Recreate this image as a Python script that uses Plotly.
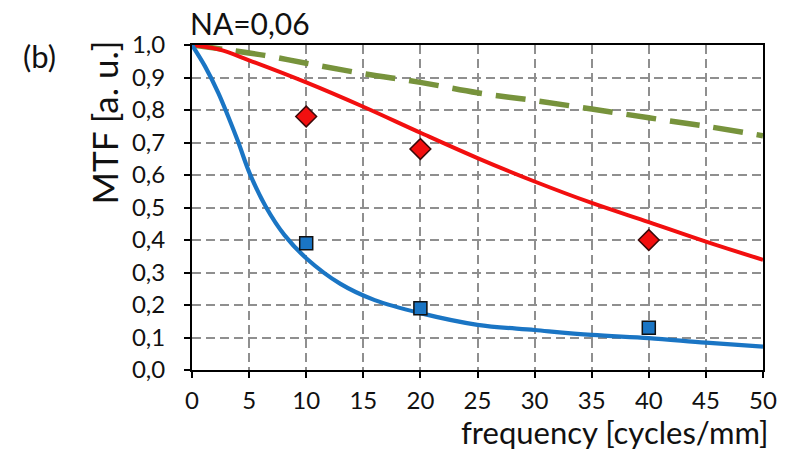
import plotly.graph_objects as go

# Modelled MTF curves (frequency in cycles/mm)
freq_blue = [0, 1.13, 2.3, 3.17, 4.04, 5.05, 6.5, 8.1, 10, 13, 16, 20, 25, 30, 35, 40, 45, 50]
mtf_blue = [1.0, 0.935, 0.853, 0.78, 0.702, 0.605, 0.5, 0.415, 0.344, 0.265, 0.215, 0.175, 0.139, 0.123, 0.108, 0.098, 0.084, 0.072]

freq_red = [0, 2.4, 5, 10, 15, 20, 25, 30, 35, 40, 45, 50]
mtf_red = [1.0, 0.986, 0.953, 0.885, 0.81, 0.73, 0.652, 0.58, 0.514, 0.455, 0.395, 0.339]

freq_green = [0, 6.36, 10, 15, 20, 25, 30, 35, 40, 45, 50]
mtf_green = [1.0, 0.968, 0.944, 0.912, 0.885, 0.853, 0.829, 0.803, 0.776, 0.75, 0.721]

# Measured points
meas_freq = [10, 20, 40]
meas_red = [0.78, 0.68, 0.40]
meas_blue = [0.39, 0.19, 0.13]

x_ticks = [0, 5, 10, 15, 20, 25, 30, 35, 40, 45, 50]
y_ticks = [0.0, 0.1, 0.2, 0.3, 0.4, 0.5, 0.6, 0.7, 0.8, 0.9, 1.0]

FONT = "Lato"
TEXT = "#111111"
BLUE = "#1a75c4"
RED = "#f20f0f"
GREEN = "#77933c"

W, H = 789, 451
ML, MR, MT, MB = 192, 23, 45, 81

fig = go.Figure()
fig.add_trace(go.Scatter(x=freq_green, y=mtf_green, mode="lines", line_shape="spline",
                         line=dict(color=GREEN, width=5.5, dash="30px,14px")))
fig.add_trace(go.Scatter(x=freq_red, y=mtf_red, mode="lines", line_shape="spline",
                         line=dict(color=RED, width=4)))
fig.add_trace(go.Scatter(x=freq_blue, y=mtf_blue, mode="lines", line_shape="spline",
                         line=dict(color=BLUE, width=4.2)))
fig.add_trace(go.Scatter(x=meas_freq, y=meas_red, mode="markers",
                         marker=dict(symbol="diamond", size=16, color=RED,
                                     line=dict(color="#3a0a0a", width=1.5))))
fig.add_trace(go.Scatter(x=meas_freq, y=meas_blue, mode="markers",
                         marker=dict(symbol="square", size=13, color=BLUE,
                                     line=dict(color="#111111", width=1.5))))

axis_common = dict(
    showline=True, linecolor="black", linewidth=2, mirror=True,
    showgrid=True, gridcolor="#8f8f8f", gridwidth=1.5, griddash="9px,5px",
    ticks="outside", ticklen=6, tickwidth=2, tickcolor="black",
    zeroline=False,
    tickfont=dict(family=FONT, size=24, color=TEXT),
)


def px_x(x):
    return (x - ML) / (W - ML - MR)


def px_y(y):
    return (H - MB - y) / (H - MT - MB)


fig.update_layout(
    width=W, height=H,
    margin=dict(l=ML, r=MR, t=MT, b=MB),
    paper_bgcolor="white", plot_bgcolor="white",
    showlegend=False,
    separators=", ",
    xaxis=dict(range=[0, 50], tickvals=x_ticks, ticklabelstandoff=2, **axis_common),
    yaxis=dict(range=[0, 1.0], tickvals=y_ticks, tickformat=".1f",
               ticklabelstandoff=14, **axis_common),
    annotations=[
        dict(text="NA=0,06", x=px_x(188), y=px_y(23), xref="paper", yref="paper",
             showarrow=False, xanchor="left", yanchor="middle",
             font=dict(family=FONT, size=30, color=TEXT)),
        dict(text="(b)", x=px_x(38.5), y=px_y(56), xref="paper", yref="paper",
             showarrow=False, xanchor="center", yanchor="middle",
             font=dict(family=FONT, size=31, color=TEXT)),
        dict(text="MTF [a. u.]", x=px_x(104), y=px_y(122), xref="paper", yref="paper",
             showarrow=False, textangle=-90, xanchor="center", yanchor="middle",
             font=dict(family=FONT, size=35, color=TEXT)),
        dict(text="frequency [cycles/mm]", x=px_x(773), y=px_y(431.5), xref="paper",
             yref="paper", showarrow=False, xanchor="right", yanchor="middle",
             borderpad=0, font=dict(family=FONT, size=31, color=TEXT)),
    ],
)

fig.write_html("out.html")
